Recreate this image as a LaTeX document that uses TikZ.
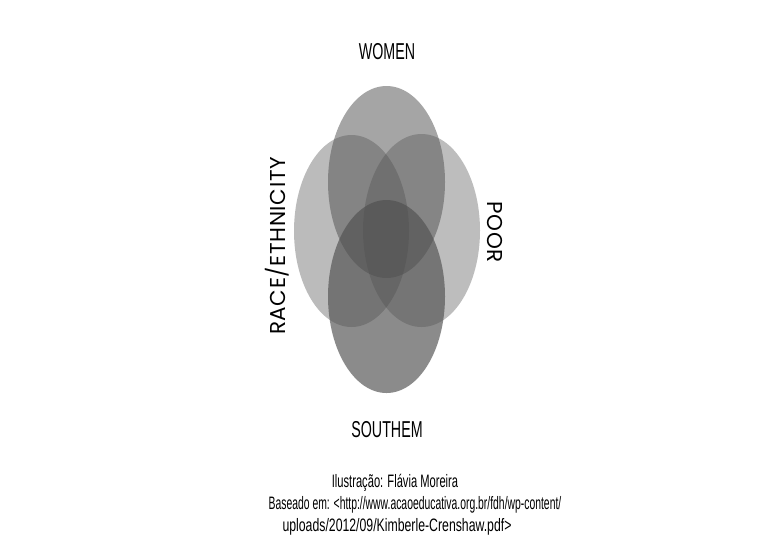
\documentclass[tikz,border=0pt]{standalone}
\usepackage{fontspec}
\setmainfont{Liberation Sans}
\newfontfamily\condfont[FakeStretch=0.62]{Liberation Sans}
\newfontfamily\geofont[LetterSpace=3]{Poppins}
\definecolor{vennfill}{RGB}{80,80,80}
\tikzset{
  venn/.style={fill=vennfill, draw=none},
  setlabel/.style={font=\condfont\fontsize{23}{23}\selectfont, inner sep=0pt},
  sidelabel/.style={font=\geofont\fontsize{21.5}{21.5}\selectfont, inner sep=0pt},
  caption/.style={font=\condfont\fontsize{18}{22}\selectfont, inner sep=0pt}
}
\begin{document}
\begin{tikzpicture}[x=1pt,y=-1pt]
\fill[white] (0,0) rectangle (767,547);
\useasboundingbox (0,0) rectangle (767,547);
% ellipses
\fill[venn, fill opacity=0.383] (351.5,231) ellipse [x radius=57.5, y radius=96];
\fill[venn, fill opacity=0.371] (421.5,230.5) ellipse [x radius=58.5, y radius=96.5];
\fill[venn, fill opacity=0.509] (386.5,182) ellipse [x radius=58.5, y radius=96];
\fill[venn, fill opacity=0.657] (386.5,296.5) ellipse [x radius=58.5, y radius=96.5];
% labels
\node[setlabel] (women) at (387,52) {WOMEN};
\node[setlabel] (south) at (387,430) {SOUTHEM};
\node[sidelabel, rotate=90] (race) at (277,246) {RACE/ETHNICITY};
\node[sidelabel, rotate=-90] (poor) at (495,232) {POOR};
\node[caption] (cap1) at (395,483) {Ilustração: Flávia Moreira};
\node[caption] (cap2) at (415,505) {\scalebox{0.93}[1]{Baseado em: <http://www.acaoeducativa.org.br/fdh/wp-content/}};
\node[caption] (cap3) at (397,527) {\scalebox{1.1}[1]{uploads/2012/09/Kimberle-Crenshaw.pdf>}};
\end{tikzpicture}
\end{document}
